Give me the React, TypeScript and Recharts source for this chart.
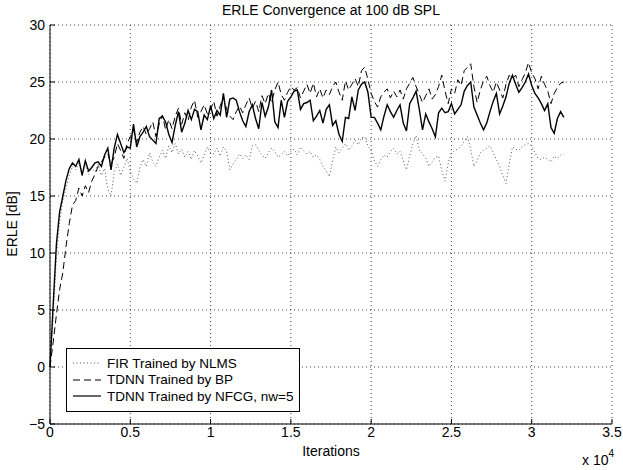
import { LineChart, Line, XAxis, YAxis, CartesianGrid } from 'recharts';

// ERLE convergence, one sample every 200 iterations (0 .. 32000)
const STEP = 200;

const firNlms = [
  0, 4.6, 9.6, 12.8, 14.6, 15.7, 16.8, 17.6, 17.3, 17.9,
  17.1, 17.7, 16.9, 17.5, 17.1, 17.8, 16.8, 17.4, 15.6, 15.0,
  17.1, 17.8, 16.8, 17.5, 18.3, 17.2, 16.5, 16.1, 17.5, 18.2,
  17.6, 18.8, 18.0, 17.6, 18.4, 19.0, 18.3, 19.4, 18.8, 19.6,
  18.7, 19.1, 18.4, 18.9, 18.2, 19.0, 18.5, 17.9, 18.6, 19.3,
  18.8, 18.7, 19.2, 18.5, 19.3, 18.9, 17.3, 17.8, 18.2, 18.7,
  18.3, 18.6, 18.2, 19.4, 19.5, 19.0, 18.6, 18.3, 18.8, 19.2,
  18.9, 18.4, 18.6, 18.9, 18.5, 18.9, 19.1, 18.6, 19.3, 19.0,
  18.7, 18.9, 18.4, 18.6, 18.2, 17.6, 17.2, 16.7, 18.1, 19.3,
  18.8, 19.2, 19.6, 19.0, 19.4, 19.9, 19.5, 20.1, 20.2, 19.4,
  19.0, 18.1, 17.6, 18.2, 18.6, 18.4, 18.9, 19.2, 18.7, 18.9,
  18.1, 17.3, 18.5, 19.6, 20.3, 19.0, 18.7, 18.3, 17.6, 18.0,
  18.4, 18.5, 17.2, 16.3, 17.9, 18.8, 19.0, 19.1, 19.4, 19.8,
  20.2, 19.1, 17.6, 18.1, 18.8, 19.0, 19.2, 19.4, 18.8, 18.2,
  17.6, 16.8, 16.1, 17.8, 19.3, 19.1, 19.0, 19.3, 19.5, 19.6,
  19.4, 18.8, 18.3, 18.2, 18.4, 18.2, 18.0, 18.5, 18.3, 18.6,
  18.7,
];

const tdnnBp = [
  0, 2.2, 4.6, 6.8, 8.3, 10.6, 12.6, 14.2, 14.6, 15.7,
  15.0, 15.9, 15.3, 16.3, 16.9, 17.6, 18.0, 18.4, 18.7, 17.8,
  18.4, 19.6, 19.0, 18.3, 19.6, 20.2, 20.8, 19.7, 20.6, 21.1,
  20.4, 20.9, 21.5, 20.2, 21.3, 22.1, 20.8, 21.7, 20.9, 22.0,
  22.7, 21.3, 22.3, 21.6, 22.8, 23.4, 21.9, 22.4, 23.0, 22.2,
  22.6, 23.3, 22.0, 22.9, 23.7, 22.6, 22.0, 21.7, 22.4, 22.9,
  22.3, 23.0, 23.6, 22.7, 23.3, 22.4, 23.8, 23.1, 24.0, 23.2,
  24.3, 25.0, 23.9, 23.4, 24.1, 24.6, 24.3, 24.5, 23.6, 24.2,
  24.8, 24.0, 24.9, 23.7, 24.4, 23.6, 24.3, 23.9, 24.6, 25.0,
  24.1, 23.4, 25.1, 24.3, 24.8, 25.3, 24.6, 26.0, 26.3, 25.2,
  24.0, 23.3, 22.8, 23.7, 24.1, 24.4, 23.6, 24.2, 23.7, 24.3,
  23.5, 24.4, 24.9, 25.4, 24.6, 23.9, 23.2, 23.8, 24.4, 23.5,
  23.9, 24.6, 25.6, 24.2, 23.1, 24.4, 24.0, 25.2, 24.7, 26.0,
  26.3, 26.6, 24.6, 23.2, 24.3, 25.1, 25.5, 24.7, 24.1, 25.0,
  24.3, 23.6, 24.8, 25.6, 25.3, 25.6, 24.6, 25.2, 25.8, 26.7,
  25.8, 25.3, 24.4, 25.5, 24.8, 24.2, 23.1, 24.0, 24.5, 24.9,
  25.0,
];

const tdnnNfcg = [
  0, 5.5, 10.8, 13.6, 15.0, 16.4, 17.4, 17.9, 17.6, 18.2,
  16.8, 18.1, 17.2, 17.5, 17.9, 18.0, 17.6, 18.6, 19.2, 17.3,
  19.2, 20.4, 19.6, 18.8, 19.3, 19.2, 21.3, 19.3, 20.2, 20.6,
  21.1, 20.2, 19.9, 19.6, 21.8, 22.0, 21.5, 20.4, 19.7, 21.2,
  22.4, 20.6, 21.4, 22.5, 21.7, 22.6, 22.4, 20.8, 22.1, 21.7,
  22.9, 21.8, 22.5, 22.1, 24.0, 21.9, 23.5, 23.6, 23.4, 22.4,
  21.6, 21.1, 22.4, 23.0, 21.8, 20.9, 23.2, 22.0, 22.8, 24.3,
  21.5, 21.0, 23.4, 21.9, 23.3, 23.7, 24.2, 24.3, 22.6, 23.1,
  23.2, 23.4, 21.6, 22.0, 22.5, 21.4, 22.6, 23.0, 21.2, 21.6,
  20.4, 19.8, 21.9, 21.8, 23.7, 22.5, 24.3, 24.8, 25.0, 24.1,
  21.9, 21.9, 21.4, 20.8, 22.0, 23.0, 22.4, 21.9, 22.5, 23.0,
  21.4, 20.7, 23.1, 23.6, 24.2, 22.6, 20.8, 22.2, 21.5, 20.9,
  20.2, 22.3, 22.7, 22.3, 22.4, 23.1, 22.2, 22.6, 23.0, 24.2,
  24.7, 25.0, 22.8, 22.1, 21.4, 20.8, 21.4, 22.4, 23.3, 24.0,
  22.2, 22.9, 23.7, 24.9, 25.6, 24.8, 24.1, 24.5, 25.0, 25.7,
  24.7, 24.0, 23.6, 23.1, 22.5, 23.1, 21.0, 20.5, 21.8, 22.4,
  21.9,
];

const xTicks = [0, 5000, 10000, 15000, 20000, 25000, 30000, 35000];
const yTicks = [-5, 0, 5, 10, 15, 20, 25, 30];

const legendItems = [
  { label: 'FIR Trained by NLMS', dash: '1 2.5', color: '#555' },
  { label: 'TDNN Trained by BP', dash: '7 4', color: '#000' },
  { label: 'TDNN Trained by NFCG, nw=5', dash: undefined, color: '#000' },
];

const chartData = tdnnNfcg.map((v, i) => ({
  iter: i * STEP,
  fir: firNlms[i],
  bp: tdnnBp[i],
  nfcg: v,
}));

const FONT = '"Liberation Sans", Arial, Helvetica, sans-serif';

export default function App() {
  return (
    <div style={{ position: 'absolute', left: 0, top: 0, width: 623, height: 470, background: '#fff', fontFamily: FONT }}>
      <LineChart
        width={623}
        height={470}
        data={chartData}
        margin={{ top: 25, right: 11, bottom: 16, left: 0 }}
        style={{ fontFamily: FONT }}
      >
        <CartesianGrid stroke="#444" strokeDasharray="1 3" />
        <XAxis
          dataKey="iter"
          type="number"
          domain={[0, 35000]}
          ticks={xTicks}
          interval={0}
          tickFormatter={(v) => String(v / 10000)}
          height={30}
          tickSize={-5}
          tickMargin={8}
          stroke="#000"
          tick={{ fill: '#000', fontSize: 14 }}
        />
        <XAxis
          xAxisId="top"
          orientation="top"
          type="number"
          domain={[0, 35000]}
          ticks={xTicks}
          height={0}
          tick={false}
          tickSize={-5}
          stroke="#000"
        />
        <YAxis
          type="number"
          domain={[-5, 30]}
          ticks={yTicks}
          interval={0}
          width={50}
          tickSize={-5}
          tickMargin={10}
          tickFormatter={(v) => (v < 0 ? `\u2212${-v}` : String(v))}
          stroke="#000"
          tick={{ fill: '#000', fontSize: 14 }}
        />
        <YAxis
          yAxisId="right"
          orientation="right"
          type="number"
          domain={[-5, 30]}
          ticks={yTicks}
          width={0}
          tick={false}
          tickSize={-5}
          stroke="#000"
        />
        <Line type="linear" dataKey="fir" stroke="#555" strokeWidth={1} strokeDasharray="1 2.5" dot={false} isAnimationActive={false} />
        <Line type="linear" dataKey="bp" stroke="#000" strokeWidth={1} strokeDasharray="7 4" dot={false} isAnimationActive={false} />
        <Line type="linear" dataKey="nfcg" stroke="#000" strokeWidth={1.4} dot={false} isAnimationActive={false} />
      </LineChart>

      {/* title and axis labels */}
      <div style={{ position: 'absolute', left: 50, width: 562, top: 2, textAlign: 'center', fontSize: 14 }}>
        ERLE Convergence at 100 dB SPL
      </div>
      <div style={{ position: 'absolute', left: 50, width: 562, top: 443, textAlign: 'center', fontSize: 14 }}>
        Iterations
      </div>
      <div
        style={{
          position: 'absolute',
          left: 12,
          top: 224,
          fontSize: 14,
          whiteSpace: 'nowrap',
          transform: 'translate(-50%, -50%) rotate(-90deg)',
        }}
      >
        ERLE [dB]
      </div>
      <div style={{ position: 'absolute', left: 582, top: 452, fontSize: 14, whiteSpace: 'nowrap' }}>
        x 10<sup style={{ fontSize: 10, verticalAlign: 'top', position: 'relative', top: -4 }}>4</sup>
      </div>

      {/* legend box */}
      <div
        style={{
          position: 'absolute',
          left: 66,
          top: 348,
          width: 232,
          height: 62,
          border: '1.5px solid #000',
          background: '#fff',
          fontSize: 13.5,
        }}
      >
        {legendItems.map((item, i) => (
          <div key={item.label} style={{ position: 'absolute', left: 0, top: 6 + i * 16.5, height: 16, display: 'flex', alignItems: 'center', whiteSpace: 'nowrap' }}>
            <svg width={40} height={16} style={{ display: 'block' }}>
              <line x1={6} x2={34} y1={8} y2={8} stroke={item.color} strokeWidth={1.2} strokeDasharray={item.dash} />
            </svg>
            <span>{item.label}</span>
          </div>
        ))}
      </div>
    </div>
  );
}
